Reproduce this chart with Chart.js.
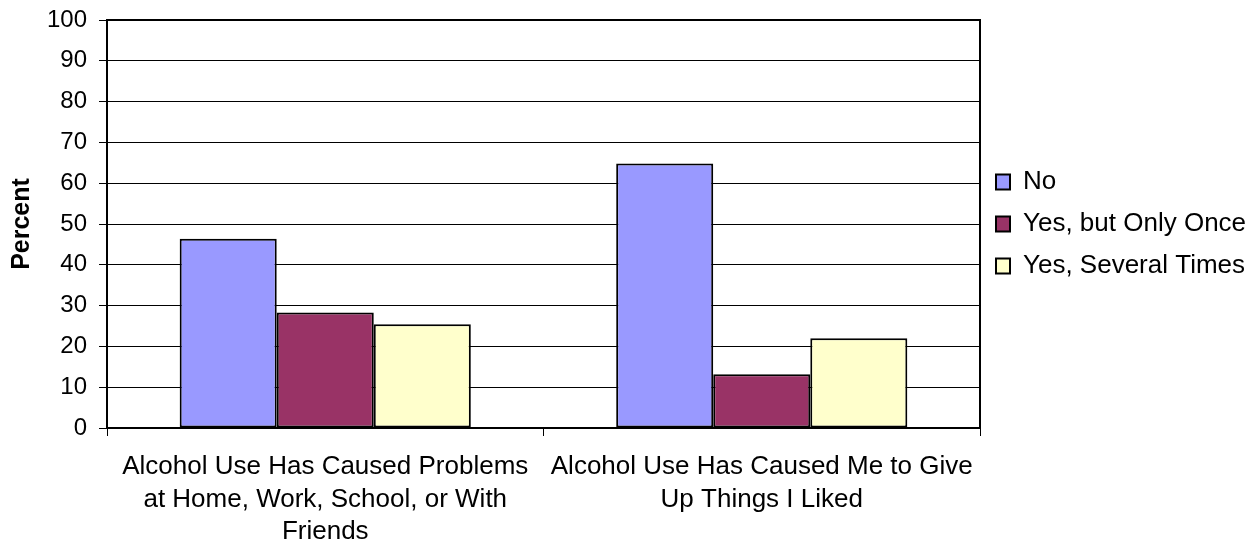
<!DOCTYPE html>
<html>
<head>
<meta charset="utf-8">
<script src="https://cdn.jsdelivr.net/npm/chart.js@4.4.1/dist/chart.umd.min.js"></script>
<style>
  html, body { margin: 0; padding: 0; background: #fff; }
  #wrap { width: 1256px; height: 544px; }
</style>
</head>
<body>
<div id="wrap"><canvas id="grafik" width="1256" height="544"></canvas></div>
<script>
var kategorije = [
    ["Alcohol Use Has Caused Problems", "at Home, Work, School, or With", "Friends"],
    ["Alcohol Use Has Caused Me to Give", "Up Things I Liked"]
];
var ne = [46.4, 64.8];
var jednom = [28.3, 13.2];
var visePuta = [25.4, 22.0];
var yTickovi = [0, 10, 20, 30, 40, 50, 60, 70, 80, 90, 100];

var font = "'Liberation Sans', Arial, sans-serif";

// okvir oko podrucja grafa (desni rub ne crta nijedna os)
var okvir = {
    id: 'okvir',
    afterDatasetsDraw: function(chart){
        var a = chart.chartArea, ctx = chart.ctx;
        ctx.save();
        ctx.strokeStyle = '#000';
        ctx.lineWidth = 2;
        ctx.beginPath();
        ctx.moveTo(a.left, a.top);
        ctx.lineTo(a.right, a.top);
        ctx.lineTo(a.right, a.bottom);
        ctx.stroke();
        ctx.restore();
    }
};

// fiksna sirina legende
var sirinaLegende = {
    id: 'sirinaLegende',
    beforeInit: function(chart){
        var fit = chart.legend.fit;
        chart.legend.fit = function(){
            fit.bind(chart.legend)();
            this.width = 276;
        };
    }
};

function skup(naziv, podaci, boja){
    return {
        label: naziv,
        data: podaci,
        backgroundColor: boja,
        borderColor: '#000',
        borderWidth: 2,
        borderSkipped: false
    };
}

var graf = new Chart(document.getElementById('grafik'), {
    type: 'bar',
    data: {
        labels: kategorije,
        datasets: [
            skup('No', ne, '#9999FF'),
            skup('Yes, but Only Once', jednom, '#993366'),
            skup('Yes, Several Times', visePuta, '#FFFFCC')
        ]
    },
    options: {
        responsive: false,
        animation: false,
        layout: { padding: { top: 20, left: 0, right: 0, bottom: 0 } },
        categoryPercentage: 0.667,
        barPercentage: 1,
        plugins: {
            tooltip: { enabled: false },
            legend: {
                position: 'right',
                fullSize: false,
                labels: {
                    color: '#000',
                    font: { family: font, size: 26 },
                    boxWidth: 14,
                    boxHeight: 15,
                    padding: 16
                }
            }
        },
        scales: {
            x: {
                afterFit: function(os){ os.height = 116; },
                grid: {
                    display: true,
                    offset: true,
                    drawOnChartArea: false,
                    tickLength: 8,
                    color: '#000'
                },
                border: { color: '#000', width: 2 },
                ticks: {
                    color: '#000',
                    maxRotation: 0,
                    padding: 15,
                    font: { family: font, size: 26, lineHeight: 1.25 }
                }
            },
            y: {
                min: 0,
                max: 100,
                afterBuildTicks: function(os){
                    os.ticks = yTickovi.map(function(v){ return { value: v }; });
                },
                afterFit: function(os){
                    os.width = 107;
                    os.paddingTop = 0;
                    os.paddingBottom = 0;
                },
                grid: { color: '#000', lineWidth: 1, tickLength: 8 },
                border: { color: '#000', width: 2 },
                ticks: {
                    color: '#000',
                    padding: 12,
                    font: { family: font, size: 24 }
                },
                title: {
                    display: true,
                    text: 'Percent',
                    color: '#000',
                    padding: { top: 7, bottom: 0 },
                    font: { family: font, size: 25, weight: 'bold' }
                }
            }
        }
    },
    plugins: [okvir, sirinaLegende]
});
</script>
</body>
</html>
